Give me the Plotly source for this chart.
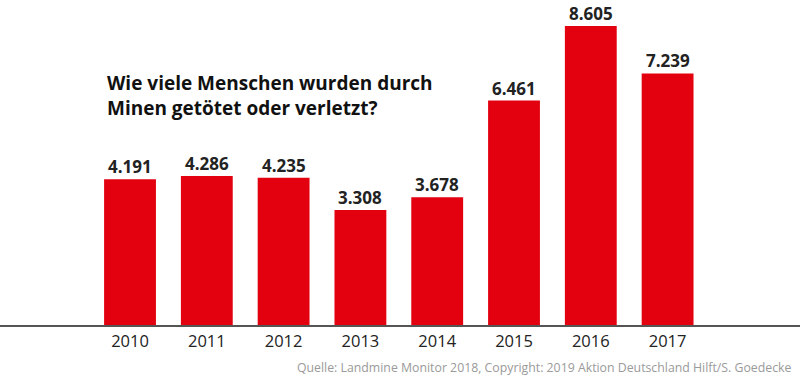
import plotly.graph_objects as go

years = ["2010", "2011", "2012", "2013", "2014", "2015", "2016", "2017"]
victims = [4191, 4286, 4235, 3308, 3678, 6461, 8605, 7239]
value_labels = ["4.191", "4.286", "4.235", "3.308", "3.678", "6.461", "8.605", "7.239"]

title_text = "Wie viele Menschen wurden durch<br>Minen getötet oder verletzt?"
source_text = "Quelle: Landmine Monitor 2018, Copyright: 2019 Aktion Deutschland Hilft/S. Goedecke"

RED = "#e3000f"
FONT = "Open Sans"

fig = go.Figure(go.Bar(
    x=years, y=victims,
    marker=dict(color=RED, line=dict(width=0)),
    cliponaxis=False,
    hoverinfo="skip",
))

for i, (v, lab) in enumerate(zip(victims, value_labels)):
    fig.add_annotation(x=i, y=v, text=lab, xref="x", yref="y", showarrow=False,
                       xanchor="center", yanchor="bottom", yshift=-1,
                       font=dict(family=FONT, size=17, color="#222222", weight="bold"))

fig.update_layout(
    width=800, height=379,
    margin=dict(l=0, r=0, t=26, b=54),
    paper_bgcolor="white", plot_bgcolor="white",
    bargap=0.325,
    showlegend=False,
    xaxis=dict(
        type="category",
        range=[-1.693, 8.724],
        showline=True, linecolor="#555555", linewidth=1.5,
        showgrid=False, zeroline=False, ticks="",
        tickfont=dict(family=FONT, size=16.5, color="#222222"),
        fixedrange=True,
    ),
    yaxis=dict(range=[0, 8605], visible=False, showgrid=False, zeroline=False, fixedrange=True),
)

fig.add_annotation(text=title_text, xref="paper", yref="paper", x=105 / 800, y=(325 - 96) / 299,
                   xanchor="left", yanchor="middle", align="left", showarrow=False,
                   font=dict(family=FONT, size=19, color="#111111", weight="bold"))
fig.add_annotation(text=source_text, xref="paper", yref="paper", x=793 / 800, y=-(368 - 325) / 299,
                   xanchor="right", yanchor="middle", showarrow=False,
                   font=dict(family=FONT, size=12.3, color="#9a9a9a"))

fig.write_html("out.html", config={"displayModeBar": False},
               post_script="document.body.style.margin='0';document.body.style.overflow='hidden';")
